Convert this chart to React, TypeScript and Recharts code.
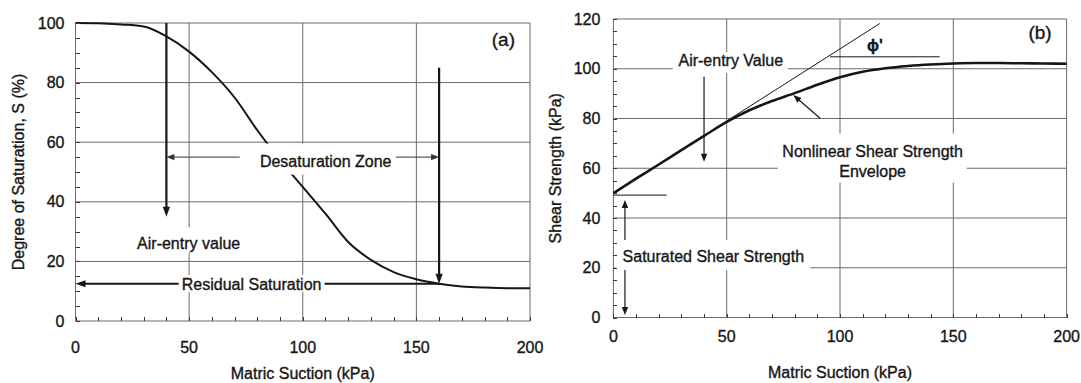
import React from 'react';
import {
  LineChart,
  Line,
  XAxis,
  YAxis,
  CartesianGrid,
  ReferenceLine,
  ReferenceDot,
} from 'recharts';

// ---- (a) Soil-water characteristic curve ----
const suction = [0, 10, 20, 30, 40, 50, 60, 70, 80, 90, 100, 110, 120, 130, 140, 150, 160, 170, 180, 190, 200];
const saturation = [100, 99.9, 99.5, 98.8, 95.5, 90.4, 83.5, 75, 64, 54, 45, 36, 26.5, 20.5, 16.4, 14, 12.5, 11.6, 11.2, 11, 11];

// ---- (b) Shear strength envelope ----
const shearStrength = [50, 55.8, 61.5, 67.3, 73, 78.6, 83.3, 87, 90.2, 93.6, 96.6, 98.8, 100.2, 101.1, 101.7, 102.1, 102.3, 102.3, 102.2, 102.1, 102];

// ---- axis ticks (labelled major ticks + small inner ticks) ----
const xTicks = [0, 50, 100, 150, 200];
const xMinorTicks = [0, 10, 20, 30, 40, 50, 60, 70, 80, 90, 100, 110, 120, 130, 140, 150, 160, 170, 180, 190, 200];
const yTicksA = [0, 20, 40, 60, 80, 100];
const yMinorTicksA = [0, 5, 10, 15, 20, 25, 30, 35, 40, 45, 50, 55, 60, 65, 70, 75, 80, 85, 90, 95, 100];
const yTicksB = [0, 20, 40, 60, 80, 100, 120];
const yMinorTicksB = [0, 5, 10, 15, 20, 25, 30, 35, 40, 45, 50, 55, 60, 65, 70, 75, 80, 85, 90, 95, 100, 105, 110, 115, 120];

// ---- annotation geometry (data units): [x1, y1, x2, y2] ----
const airEntryArrowA = [40, 100, 40, 35];
const residualArrowDown = [160, 85, 160, 12.5];
const desaturationSpan = [40, 55, 160, 55];
const residualLine = [160, 12.5, 0, 12.5];

const tangentLine = [50, 79, 117.6, 118.2];
const phiBase = [95.6, 104.8, 144, 104.8];
const cohesionMark = [0, 49.2, 23.5, 49.2];
const airEntryArrowB = [40, 96.8, 40, 62.6];
const envelopePointer = [91.2, 80.1, 79.4, 89.4];
const satArrowUp = [5.1, 31.2, 5.1, 47.2];
const satArrowDown = [5.1, 19.8, 5.1, 1];

// ---- text annotations (data units) ----
const labelsA = [
  { x: 110.1, y: 53.5, lines: ['Desaturation Zone'], box: [-86, 70, -18, 13] },
  { x: 49.8, y: 26.1, lines: ['Air-entry value'], box: [-59, 57, -16, 9] },
  { x: 77.5, y: 12.4, lines: ['Residual Saturation'], box: [-73, 73, -9, 8] },
];
const labelsB = [
  { x: 51.8, y: 103.5, lines: ['Air-entry Value'], box: [-58, 57, -8, 13] },
  { x: 114.4, y: 66.7, lines: ['Nonlinear Shear Strength', 'Envelope'], box: [-95, 94, -18, 31] },
  { x: 44.1, y: 24.7, lines: ['Saturated Shear Strength'], box: [-98, 97, -16, 14] },
];

const INK = '#161616';
const GRID = '#6b6b6b';
const TICK = '#3a3a3a';
const FONT = '"Liberation Sans", Arial, Helvetica, sans-serif';
const TEXT_STROKE = 0.35;
const MINOR_LEN = 4;

const dataA = suction.map((s, i) => ({ s, v: saturation[i] }));
const dataB = suction.map((s, i) => ({ s, v: shearStrength[i] }));

type Heads = 'none' | 'end' | 'both';

function arrowShape(width: number, heads: Heads, color = INK) {
  return (p: any) => {
    const { x1, y1, x2, y2 } = p;
    if ([x1, y1, x2, y2].some((n) => typeof n !== 'number' || Number.isNaN(n))) return <g />;
    const dx = x2 - x1;
    const dy = y2 - y1;
    const len = Math.hypot(dx, dy) || 1;
    const ux = dx / len;
    const uy = dy / len;
    const L = width > 1.5 ? 10 : 8;
    const H = width > 1.5 ? 3.6 : 3.2;
    const tri = (tx: number, ty: number, vx: number, vy: number) =>
      `${tx},${ty} ${tx - vx * L - vy * H},${ty - vy * L + vx * H} ${tx - vx * L + vy * H},${ty - vy * L - vx * H}`;
    const sx = heads === 'both' ? x1 + ux * (L - 2) : x1;
    const sy = heads === 'both' ? y1 + uy * (L - 2) : y1;
    const ex = heads !== 'none' ? x2 - ux * (L - 2) : x2;
    const ey = heads !== 'none' ? y2 - uy * (L - 2) : y2;
    return (
      <g>
        <line x1={sx} y1={sy} x2={ex} y2={ey} stroke={color} strokeWidth={width} />
        {heads !== 'none' && <polygon points={tri(x2, y2, ux, uy)} fill={color} />}
        {heads === 'both' && <polygon points={tri(x1, y1, -ux, -uy)} fill={color} />}
      </g>
    );
  };
}

function labelShape(lines: string[], box: number[], size = 16) {
  return (p: any) => {
    const { cx, cy } = p;
    if (typeof cx !== 'number' || typeof cy !== 'number') return <g />;
    const [l, r, t, b] = box;
    return (
      <g>
        <rect x={cx + l} y={cy + t} width={r - l} height={b - t} fill="#fff" />
        {lines.map((ln, i) => (
          <text
            key={i}
            x={cx}
            y={cy + i * 20}
            textAnchor="middle"
            dominantBaseline="central"
            fontSize={size}
            fontFamily={FONT}
            fill={INK}
            stroke={INK}
            strokeWidth={TEXT_STROKE}
          >
            {ln}
          </text>
        ))}
      </g>
    );
  };
}

function plainText(text: string, size: number, weight: number | string = 'normal') {
  return (p: any) => {
    const { cx, cy } = p;
    if (typeof cx !== 'number' || typeof cy !== 'number') return <g />;
    return (
      <text
        x={cx}
        y={cy}
        textAnchor="middle"
        dominantBaseline="central"
        fontSize={size}
        fontWeight={weight}
        fontFamily={FONT}
        fill={INK}
        stroke={INK}
        strokeWidth={TEXT_STROKE}
      >
        {text}
      </text>
    );
  };
}

// bottom-axis tick: small inward mark for every tick, number for the major ones
function xTick(major: number[], margin: number) {
  return (p: any) => {
    const { x, y, payload } = p;
    const v = payload?.value;
    const base = Math.round(y - margin);
    const px = Math.round(x) + 0.5;
    return (
      <g>
        <line x1={px} x2={px} y1={base} y2={base - MINOR_LEN} stroke={TICK} strokeWidth={1} />
        {major.includes(v) && (
          <text
            x={x}
            y={y}
            dy="0.71em"
            textAnchor="middle"
            fontSize={16}
            fontFamily={FONT}
            fill={INK}
            stroke={INK}
            strokeWidth={TEXT_STROKE}
          >
            {v}
          </text>
        )}
      </g>
    );
  };
}

// left-axis tick: small inward mark for every tick, number for the major ones
function yTick(major: number[], margin: number) {
  return (p: any) => {
    const { x, y, payload } = p;
    const v = payload?.value;
    const base = Math.round(x + margin);
    const py = Math.round(y) + 0.5;
    return (
      <g>
        <line x1={base} x2={base + MINOR_LEN} y1={py} y2={py} stroke={TICK} strokeWidth={1} />
        {major.includes(v) && (
          <text
            x={x}
            y={y}
            textAnchor="end"
            dominantBaseline="central"
            fontSize={16}
            fontFamily={FONT}
            fill={INK}
            stroke={INK}
            strokeWidth={TEXT_STROKE}
          >
            {v}
          </text>
        )}
      </g>
    );
  };
}

const seg = (a: number[]) => [
  { x: a[0], y: a[1] },
  { x: a[2], y: a[3] },
];

const titleStyle = { fontSize: 16, fill: INK, fontFamily: FONT, stroke: INK, strokeWidth: TEXT_STROKE };

export default function App() {
  return (
    <div
      style={{
        position: 'absolute',
        left: 0,
        top: 0,
        width: 1081,
        height: 383,
        background: '#fff',
        fontFamily: FONT,
      }}
    >
      {/* (a) degree of saturation */}
      <div style={{ position: 'absolute', left: 0, top: 0 }}>
        <LineChart width={556} height={383} data={dataA} margin={{ top: 23, right: 26, bottom: 0, left: 0 }}>
          <XAxis
            dataKey="s"
            type="number"
            domain={[0, 200]}
            ticks={xMinorTicks}
            interval={0}
            height={62}
            tickSize={0}
            tickMargin={21}
            axisLine={false}
            tickLine={false}
            tick={xTick(xTicks, 21)}
            label={{ value: 'Matric Suction (kPa)', position: 'insideBottom', offset: 4, style: titleStyle }}
          />
          <YAxis
            type="number"
            domain={[0, 100]}
            ticks={yMinorTicksA}
            interval={0}
            width={75.5}
            tickSize={0}
            tickMargin={11}
            axisLine={false}
            tickLine={false}
            tick={yTick(yTicksA, 11)}
            label={{
              value: 'Degree of Saturation, S (%)',
              angle: -90,
              position: 'insideLeft',
              offset: 18,
              style: { ...titleStyle, textAnchor: 'middle' },
            }}
          />
          <CartesianGrid stroke={GRID} strokeWidth={1} horizontalValues={yTicksA} verticalValues={xTicks} />
          <Line type="monotone" dataKey="v" stroke={INK} strokeWidth={2} dot={false} isAnimationActive={false} />
          <ReferenceLine segment={seg(airEntryArrowA)} shape={arrowShape(2.2, 'end')} />
          <ReferenceLine segment={seg(residualArrowDown)} shape={arrowShape(2.2, 'end')} />
          <ReferenceLine segment={seg(desaturationSpan)} shape={arrowShape(1, 'both', '#333')} />
          <ReferenceLine segment={seg(residualLine)} shape={arrowShape(2, 'end')} />
          {labelsA.map((lb, i) => (
            <ReferenceDot key={i} x={lb.x} y={lb.y} shape={labelShape(lb.lines, lb.box)} />
          ))}
          <ReferenceDot x={188.3} y={94.3} shape={plainText('(a)', 19)} />
        </LineChart>
      </div>

      {/* (b) shear strength */}
      <div style={{ position: 'absolute', left: 540, top: 0 }}>
        <LineChart width={541} height={383} data={dataB} margin={{ top: 19, right: 14.4, bottom: 0, left: 0 }}>
          <XAxis
            dataKey="s"
            type="number"
            domain={[0, 200]}
            ticks={xMinorTicks}
            interval={0}
            height={65.5}
            tickSize={0}
            tickMargin={13.5}
            axisLine={false}
            tickLine={false}
            tick={xTick(xTicks, 13.5)}
            label={{ value: 'Matric Suction (kPa)', position: 'insideBottom', offset: 5, style: titleStyle }}
          />
          <YAxis
            type="number"
            domain={[0, 120]}
            ticks={yMinorTicksB}
            interval={0}
            width={73.4}
            tickSize={0}
            tickMargin={13}
            axisLine={false}
            tickLine={false}
            tick={yTick(yTicksB, 13)}
            label={{
              value: 'Shear Strength (kPa)',
              angle: -90,
              position: 'insideLeft',
              offset: 15,
              style: { ...titleStyle, textAnchor: 'middle' },
            }}
          />
          <CartesianGrid stroke={GRID} strokeWidth={1} horizontalValues={yTicksB} verticalValues={xTicks} />
          <Line type="monotone" dataKey="v" stroke={INK} strokeWidth={2.6} dot={false} isAnimationActive={false} />
          <ReferenceLine segment={seg(tangentLine)} shape={arrowShape(1, 'none')} />
          <ReferenceLine segment={seg(phiBase)} shape={arrowShape(1, 'none')} />
          <ReferenceLine segment={seg(cohesionMark)} shape={arrowShape(1, 'none')} />
          <ReferenceLine segment={seg(airEntryArrowB)} shape={arrowShape(1.2, 'end')} />
          <ReferenceLine segment={seg(envelopePointer)} shape={arrowShape(1.2, 'end')} />
          <ReferenceLine segment={seg(satArrowUp)} shape={arrowShape(1.2, 'end')} />
          <ReferenceLine segment={seg(satArrowDown)} shape={arrowShape(1.2, 'end')} />
          {labelsB.map((lb, i) => (
            <ReferenceDot key={i} x={lb.x} y={lb.y} shape={labelShape(lb.lines, lb.box)} />
          ))}
          <ReferenceDot x={115.4} y={109.5} shape={plainText("ϕ'", 16, 'bold')} />
          <ReferenceDot x={188.3} y={114.7} shape={plainText('(b)', 19)} />
        </LineChart>
      </div>
    </div>
  );
}
